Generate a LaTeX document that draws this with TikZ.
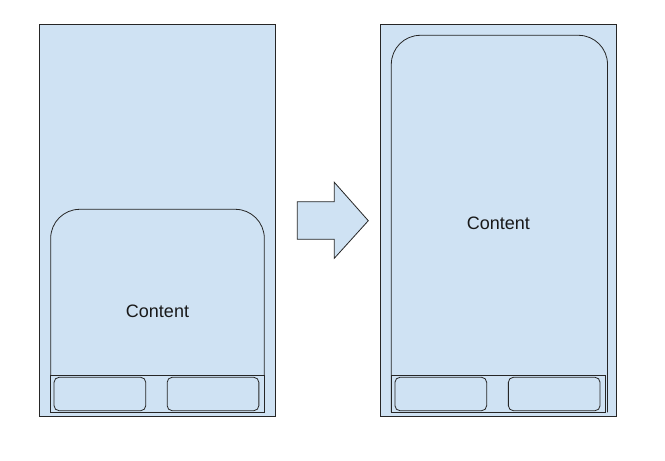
\documentclass[tikz,border=0pt]{standalone}
\usepackage{fontspec}
\setmainfont{Liberation Sans}
\usepackage{xcolor}
\usepackage{tikz}
\usetikzlibrary{calc,positioning}

\definecolor{screenblue}{HTML}{CFE2F3}
\definecolor{edgegray}{HTML}{262626}

\tikzset{
    screen/.style={draw=edgegray, fill=screenblue, line width=0.8pt, minimum width=236pt, minimum height=392pt, inner sep=0pt},
    bar/.style={draw=edgegray, fill=screenblue, line width=0.8pt, minimum height=36.7pt, inner sep=0pt},
    btn/.style={draw=edgegray, fill=screenblue, line width=0.8pt, rounded corners=5pt, minimum width=91.7pt, minimum height=33.4pt, inner sep=0pt},
    content/.style={draw=edgegray, fill=screenblue, line width=0.8pt, rounded corners=29pt},
    label/.style={font=\fontsize{18}{20}\selectfont, text=black!90}
}

\begin{document}
\begin{tikzpicture}[x=1pt, y=-1pt]
        \useasboundingbox (0,0) rectangle (665,461);

        % Screens
        \node[screen] (before) at (157.3,220) {};
        \node[screen] (after) at (498.4,220.2) {};

        % Content before (low)
        \filldraw[content] (50.7,375.3) -- (50.7,209.3) -- (264.3,209.3) -- (264.3,375.3);
        \node[label] (contentbefore) at (157.5,311) {Content};

        % Content after (full height)
        \filldraw[content] (391.3,412.3) -- (391.3,35.3) -- (607.5,35.3) -- (607.5,412.3);
        \node[label] (contentafter) at (498.4,223) {Content};

        % Button bars
        \node[bar, minimum width=213.6pt] (barbefore) at (157.5,393.7) {};
        \node[btn] (okbefore) at (99.9,394) {};
        \node[btn] (cancelbefore) at (213,394) {};

        \node[bar, minimum width=214.4pt] (barafter) at (498.2,393.7) {};
        \node[btn] (okafter) at (440.8,394) {};
        \node[btn] (cancelafter) at (554.2,394) {};

        % Arrow
        \filldraw[draw=edgegray, fill=screenblue, line width=0.8pt]
            (297.3,201.7) -- (334.3,201.7) -- (334.3,182.3) -- (368.3,220.7)
            -- (334.3,258.3) -- (334.3,239.3) -- (297.3,239.3) -- cycle;
\end{tikzpicture}
\end{document}
